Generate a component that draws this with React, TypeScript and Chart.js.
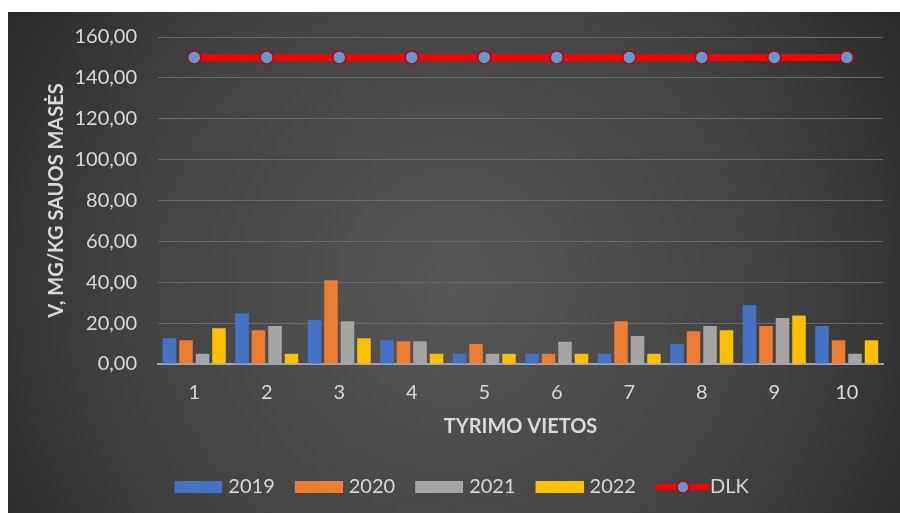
import React, { useEffect, useRef } from "react";
import { Chart, registerables } from "chart.js";

Chart.register(...registerables);

const categories = ["1", "2", "3", "4", "5", "6", "7", "8", "9", "10"];
const values2019 = [12.6, 24.8, 21.6, 11.6, 5, 5, 5, 9.8, 28.8, 18.6];
const values2020 = [11.6, 16.5, 41, 11.1, 9.8, 5, 20.9, 16, 18.6, 11.6];
const values2021 = [5, 18.6, 20.9, 11.1, 5, 10.9, 13.7, 18.6, 22.5, 5];
const values2022 = [17.5, 5, 12.6, 5, 5, 5, 5, 16.5, 23.7, 11.6];
const valuesDLK = [150, 150, 150, 150, 150, 150, 150, 150, 150, 150];
const seriesNames = ["2019", "2020", "2021", "2022", "DLK"];
const yTicks = [0, 20, 40, 60, 80, 100, 120, 140, 160];

const COLORS = ["#4472C4", "#ED7D31", "#A5A5A5", "#FFC000"];
const FONT = "Lato, 'Open Sans', sans-serif";

function makeBarSwatch(color: string) {
  const c = document.createElement("canvas");
  c.width = 52;
  c.height = 12;
  const ctx = c.getContext("2d")!;
  ctx.fillStyle = color;
  ctx.fillRect(4, 0, 48, 12);
  return c;
}

function makeLineSwatch() {
  const c = document.createElement("canvas");
  c.width = 64;
  c.height = 16;
  const ctx = c.getContext("2d")!;
  ctx.fillStyle = "#FF0000";
  ctx.fillRect(10, 5, 54, 6);
  ctx.beginPath();
  ctx.arc(37, 8, 6, 0, Math.PI * 2);
  ctx.fillStyle = "#5B9BD5";
  ctx.fill();
  ctx.lineWidth = 1.5;
  ctx.strokeStyle = "#C00000";
  ctx.stroke();
  return c;
}

const bgPlugin = {
  id: "bgPlugin",
  beforeDraw(chart: any) {
    const { ctx, width, height } = chart;
    ctx.save();
    const g = ctx.createRadialGradient(
      width * 0.5,
      height * 0.55,
      0,
      width * 0.5,
      height * 0.55,
      Math.max(width, height) * 0.62
    );
    g.addColorStop(0, "#575757");
    g.addColorStop(0.6, "#424242");
    g.addColorStop(1, "#262626");
    ctx.fillStyle = g;
    ctx.fillRect(0, 0, width, height);
    ctx.restore();
  },
};

const legendShiftPlugin = {
  id: "legendShift",
  afterLayout(chart: any) {
    const lg = chart.legend;
    if (lg) {
      lg.left += 16;
      lg.right += 16;
    }
  },
};

export default function App() {
  const ref = useRef<HTMLCanvasElement | null>(null);

  useEffect(() => {
    if (!ref.current) return;
    const barSets = [values2019, values2020, values2021, values2022].map((vals, i) => ({
      type: "bar" as const,
      label: seriesNames[i],
      data: vals,
      backgroundColor: COLORS[i],
      borderWidth: 0,
      categoryPercentage: 0.91,
      barPercentage: 0.82,
    }));
    const swatches = [...COLORS.map((c) => makeBarSwatch(c)), makeLineSwatch()];

    const chart = new Chart(ref.current, {
      data: {
        labels: categories,
        datasets: [
          ...barSets,
          {
            type: "line" as const,
            label: seriesNames[4],
            data: valuesDLK,
            borderColor: "#FF0000",
            borderWidth: 7,
            pointRadius: 6.5,
            pointBackgroundColor: "#5B9BD5",
            pointBorderColor: "#C00000",
            pointBorderWidth: 1.5,
          },
        ],
      } as any,
      options: {
        animation: false,
        responsive: false,
        maintainAspectRatio: false,
        layout: { padding: { left: 0, right: 17, top: 25, bottom: 6 } },
        plugins: {
          tooltip: { enabled: false },
          legend: {
            position: "bottom",
            labels: {
              color: "#D9D9D9",
              font: { family: FONT, size: 20 },
              usePointStyle: true,
              pointStyleWidth: 44,
              boxHeight: 12,
              padding: 20,
              generateLabels: (chart: any) => {
                const items = Chart.defaults.plugins.legend.labels.generateLabels(chart);
                return items
                  .sort((a: any, b: any) => a.datasetIndex - b.datasetIndex)
                  .map((it: any) => ({ ...it, pointStyle: swatches[it.datasetIndex] }));
              },
            },
          },
        },
        scales: {
          x: {
            grid: { display: false, drawTicks: false },
            border: { display: true, color: "#9DA6B5", width: 2 },
            ticks: { color: "#D9D9D9", font: { family: FONT, size: 20 }, padding: 17 },
            title: {
              display: true,
              text: "TYRIMO VIETOS",
              color: "#D9D9D9",
              font: { family: FONT, size: 20, weight: "bold" },
              padding: { top: 0, bottom: 18 },
            },
            afterFit: (s: any) => {
              s.height = 93;
            },
          },
          y: {
            min: 0,
            max: 160,
            afterBuildTicks: (s: any) => {
              s.ticks = yTicks.map((v) => ({ value: v }));
            },
            grid: { color: "#6A6A6A", lineWidth: 1, drawTicks: false },
            border: { display: false },
            ticks: {
              color: "#D9D9D9",
              font: { family: FONT, size: 20 },
              padding: 21,
              callback: (v: any) => Number(v).toFixed(2).replace(".", ","),
            },
            title: {
              display: true,
              text: "V, MG/KG SAUOS MASĖS",
              color: "#D9D9D9",
              font: { family: FONT, size: 20, weight: "bold" },
              padding: { top: 37, bottom: 0 },
            },
            afterFit: (s: any) => {
              s.width = 150;
              s.paddingTop = 0;
              s.paddingBottom = 0;
            },
          },
        },
      } as any,
      plugins: [bgPlugin, legendShiftPlugin],
    });
    return () => chart.destroy();
  }, []);

  return (
    <div style={{ position: "absolute", left: 8, top: 12, width: 892, height: 501 }}>
      <canvas ref={ref} width={892} height={501} style={{ width: 892, height: 501, display: "block" }} />
    </div>
  );
}
